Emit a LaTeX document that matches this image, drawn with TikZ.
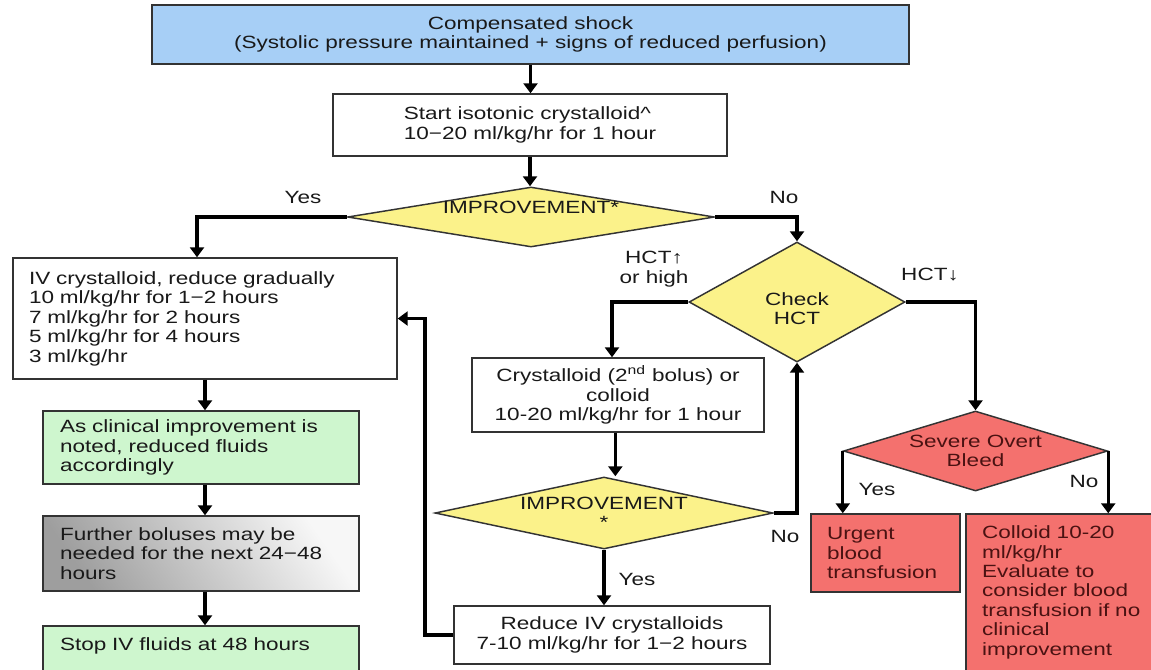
\documentclass[tikz,border=0pt]{standalone}
\usepackage{fontspec}
\setmainfont{Liberation Sans}[FakeStretch=1.27]
\usetikzlibrary{shapes.geometric,arrows.meta,calc}
\definecolor{cblue}{HTML}{A7CFF6}
\definecolor{cyellow}{HTML}{FBF28A}
\definecolor{cgreen}{HTML}{CEF6CE}
\definecolor{cred}{HTML}{F4716E}
\definecolor{credtext}{HTML}{4A1212}
\begin{document}
\begin{tikzpicture}[x=0.75pt,y=-0.75pt,
  font=\fontsize{13.3pt}{14.6pt}\selectfont,
  base/.style={draw=black!80, line width=1.1pt, inner sep=0pt, text=black!90},
  dia/.style={base, shape=diamond, fill=cyellow},
  lbl/.style={text=black!90, inner sep=0pt, align=center},
  arr/.style={line width=2.4pt, -{Triangle[length=7.5pt,width=10.5pt]}}
]
\useasboundingbox (0,0) rectangle (1151,669);

% main column
\node[base, fill=cblue, minimum width=567.75pt, minimum height=44.25pt, align=center] (top) at (530.5,34.5)
  {Compensated shock\\(Systolic pressure maintained + signs of reduced perfusion)};
\node[base, fill=white, minimum width=295.5pt, minimum height=46.5pt, align=left] (start) at (530,125)
  {Start isotonic crystalloid\^{}\\10−20 ml/kg/hr for 1 hour};
\node[dia, minimum width=275.25pt, minimum height=45pt, shape aspect=6.1] (imp1) at (531,217)
  {\raisebox{7pt}[\height][\depth]{IMPROVEMENT*}};

% left column
\node[base, fill=white, text width=264pt, inner xsep=12pt, minimum height=90.75pt, align=left] (left) at (205,318.5)
  {IV crystalloid, reduce gradually\\10 ml/kg/hr for 1−2 hours\\7 ml/kg/hr for 2 hours\\5 ml/kg/hr for 4 hours\\3 ml/kg/hr};
\node[base, fill=cgreen, text width=211.5pt, inner xsep=12.75pt, minimum height=54.75pt, align=left] (g1) at (201,447.5)
  {As clinical improvement is\\noted, reduced fluids\\accordingly};
\node[base, left color=black!38, right color=black!3, shading angle=125, text width=211.5pt, inner xsep=12.75pt, minimum height=56.25pt, align=left] (gray) at (201,553.5)
  {Further boluses may be\\needed for the next 24−48\\hours};
\node[base, fill=cgreen, text width=211.5pt, inner xsep=12.75pt, minimum height=56.25pt, align=left] (g2) at (201,663.5)
  {Stop IV fluids at 48 hours\\ \mbox{}\\ \mbox{}};

% middle column
\node[dia, minimum width=162pt, minimum height=90pt, shape aspect=1.8] (check) at (797,302)
  {\raisebox{-7pt}[\height][\depth]{\begin{tabular}{@{}c@{}}Check\\HCT\end{tabular}}};
\node[base, fill=white, minimum width=219pt, minimum height=55.5pt, align=center] (crys) at (618,395)
  {Crystalloid (2\textsuperscript{nd} bolus) or\\colloid\\10-20 ml/kg/hr for 1 hour};
\node[dia, minimum width=253.5pt, minimum height=54pt, shape aspect=4.7, align=center] (imp2) at (604,513)
  {IMPROVEMENT\\*};
\node[base, fill=white, minimum width=237pt, minimum height=43.5pt, align=center] (reduce) at (612,635)
  {Reduce IV crystalloids\\7-10 ml/kg/hr for 1−2 hours};

% right column
\node[dia, fill=cred, text=credtext, minimum width=198pt, minimum height=60pt, shape aspect=3.3, align=center] (severe) at (975.5,451)
  {Severe Overt\\Bleed};
\node[base, fill=cred, text=credtext, text width=87.75pt, inner xsep=12pt, minimum height=58.5pt, align=left] (urgent) at (885.5,553)
  {Urgent\\blood\\transfusion};
\node[base, fill=cred, text=credtext, text width=127.5pt, inner xsep=12pt, minimum height=144pt, align=left] (colloid) at (1067,610)
  {Colloid 10-20\\ml/kg/hr\\Evaluate to\\consider blood\\transfusion if no\\clinical\\improvement\\ \mbox{}\\ \mbox{}};

\coordinate (fb) at (425,318.5);

% connectors
\draw[arr] (top.south) -- (top.south |- start.north);
\draw[arr] (start.south) -- (start.south |- imp1.north);
\draw[arr] (imp1.west) -| ([xshift=-6pt]left.north);
\draw[arr] (imp1.east) -| (check.north);
\draw[arr] (check.west) -| ([xshift=-4.5pt]crys.north);
\draw[arr] (check.east) -| (severe.north);
\draw[arr] ([xshift=-2pt]crys.south) -- ([xshift=-2pt]crys.south |- imp2.north);
\draw[arr] (imp2.south) -- (imp2.south |- reduce.north);
\draw[arr] (imp2.east) -| (check.south);
\draw[arr] (reduce.west) -| (fb) -- (left.east);
\draw[arr] (left.south) -- (left.south |- g1.north);
\draw[arr] (g1.south -| left.south) -- (gray.north -| left.south);
\draw[arr] (gray.south -| left.south) -- (g2.north -| left.south);
\draw[arr] (severe.west) -- (severe.west |- urgent.north);
\draw[arr] (severe.east) -- (severe.east |- colloid.north);

% labels
\node[lbl] (yes1) at (303,197) {Yes};
\node[lbl] (no1) at (784,197) {No};
\node[lbl] (hctup) at (654,269) {HCT↑\\or high};
\node[lbl] (hctdown) at (930,275) {HCT↓};
\node[lbl] (no2) at (785,536) {No};
\node[lbl] (yes2) at (637,579) {Yes};
\node[lbl] (yes3) at (877,489) {Yes};
\node[lbl] (no3) at (1084,481) {No};
\end{tikzpicture}
\end{document}
